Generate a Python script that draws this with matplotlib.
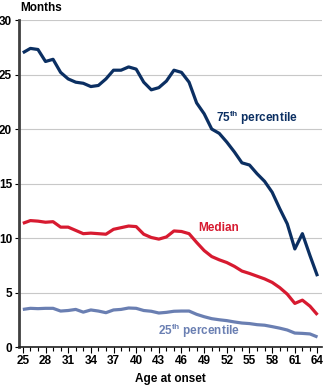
import matplotlib
matplotlib.use("Agg")
import matplotlib.pyplot as plt
from matplotlib.ticker import MultipleLocator

plt.rcParams['font.family'] = ['Liberation Sans', 'DejaVu Sans']
plt.rcParams['font.weight'] = 'bold'
plt.rcParams['mathtext.fontset'] = 'custom'
plt.rcParams['mathtext.rm'] = 'Liberation Sans:bold'
plt.rcParams['mathtext.bf'] = 'Liberation Sans:bold'

ages = list(range(25, 65))
p75 = [27.0, 27.4, 27.3, 26.2, 26.4, 25.2, 24.6, 24.3, 24.2, 23.9,
       24.0, 24.6, 25.4, 25.4, 25.7, 25.5, 24.3, 23.6, 23.8, 24.4,
       25.4, 25.2, 24.3, 22.4, 21.4, 20.0, 19.6, 18.8, 17.9, 16.9,
       16.7, 15.9, 15.2, 14.2, 12.7, 11.3, 9.0, 10.4, 8.4, 6.5]
median = [11.35, 11.6, 11.55, 11.45, 11.5, 11.0, 11.0, 10.7, 10.4, 10.45,
          10.4, 10.35, 10.8, 10.95, 11.1, 11.05, 10.35, 10.05, 9.9, 10.1,
          10.65, 10.6, 10.4, 9.6, 8.85, 8.3, 8.0, 7.75, 7.4, 6.97,
          6.75, 6.5, 6.25, 5.93, 5.45, 4.85, 4.0, 4.3, 3.75, 2.95]
p25 = [3.45, 3.55, 3.52, 3.55, 3.55, 3.3, 3.35, 3.45, 3.2, 3.4,
       3.3, 3.15, 3.4, 3.45, 3.58, 3.55, 3.35, 3.28, 3.12, 3.18,
       3.28, 3.3, 3.3, 3.0, 2.78, 2.6, 2.5, 2.42, 2.3, 2.2,
       2.15, 2.05, 2.0, 1.87, 1.73, 1.56, 1.28, 1.25, 1.2, 0.92]

fig = plt.figure(figsize=(3.23, 3.86), dpi=100)
ax = fig.add_axes([0.059, 0.101, 0.938, 0.847])

ax.plot(ages, p75, color='#0b2f62', lw=2.3, solid_capstyle='butt')
ax.plot(ages, median, color='#d71a30', lw=2.3, solid_capstyle='butt')
ax.plot(ages, p25, color='#6a7fb2', lw=2.3, solid_capstyle='butt')

ax.set_xlim(24.5, 64.6)
ax.set_ylim(0, 30)
ax.set_yticks(range(0, 31, 5))
ax.set_xticks(range(25, 65, 3))
ax.xaxis.set_minor_locator(MultipleLocator(1))
ax.grid(axis='y', color='#c8c8c8', lw=0.8)
ax.set_axisbelow(True)

for s in ['top', 'right']:
    ax.spines[s].set_visible(False)
ax.spines['left'].set_color('#404040')
ax.spines['left'].set_linewidth(2)
ax.spines['bottom'].set_color('#202020')
ax.spines['bottom'].set_linewidth(1.2)

ax.tick_params(axis='y', length=3, width=0.8, pad=2, labelsize=8.5)
ax.tick_params(axis='x', which='major', length=4, width=0.8, pad=2, labelsize=8.5)
ax.tick_params(axis='x', which='minor', length=3, width=0.8)

ax.set_xlabel('Age at onset', fontsize=8.5, fontweight='bold', labelpad=4)
fig.text(0.062, 0.978, 'Months', fontsize=8.5, fontweight='bold', va='center')

ax.text(50.6, 21.0, '75$^{\\mathrm{th}}$ percentile', color='#0b2f62',
        fontsize=8.5, va='center')
ax.text(48.2, 10.9, 'Median', color='#d71a30', fontsize=8.5, va='center')
ax.text(42.9, 1.47, '25$^{\\mathrm{th}}$ percentile', color='#6a7fb2',
        fontsize=8.5, va='center')

fig.savefig('out.png', dpi=100)
